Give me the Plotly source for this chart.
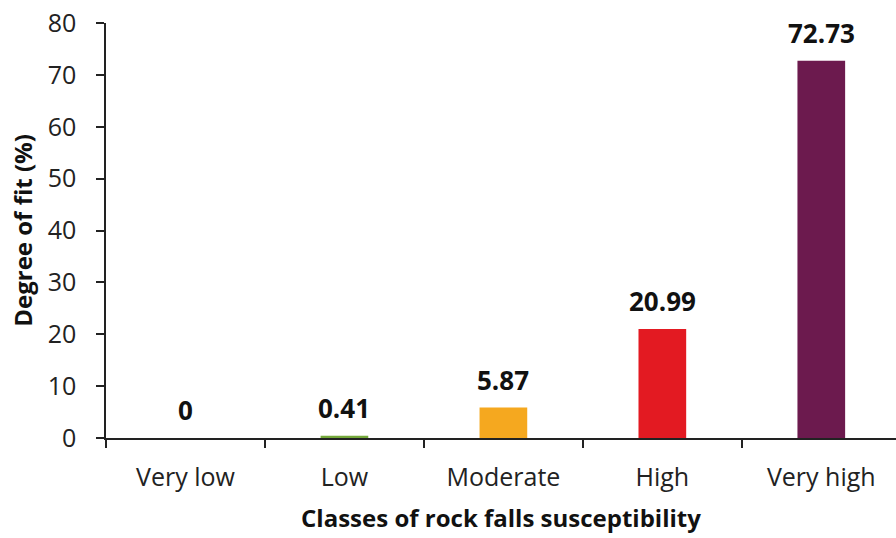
import plotly.graph_objects as go

categories = ["Very low", "Low", "Moderate", "High", "Very high"]
values = [0, 0.41, 5.87, 20.99, 72.73]
labels = ["0", "0.41", "5.87", "20.99", "72.73"]
colors = ["#74A83A", "#74A83A", "#F5A81F", "#E31A22", "#6C1A4E"]

FONT = "Open Sans"

fig = go.Figure()
fig.add_trace(go.Bar(
    x=categories, y=values, width=0.3,
    marker=dict(color=colors, line=dict(width=0)),
    hoverinfo="skip",
))

for c, v, t in zip(categories, values, labels):
    fig.add_annotation(
        x=c, y=v, text=f"<b>{t}</b>", showarrow=False,
        yanchor="bottom", yshift=8,
        font=dict(family=FONT, size=26, color="#111"),
    )

fig.update_layout(
    width=896, height=538,
    margin=dict(l=106, r=0, t=23, b=100),
    plot_bgcolor="white", paper_bgcolor="white",
    showlegend=False,
    font=dict(family=FONT, color="#222"),
)
fig.update_xaxes(
    range=[-0.5, 4.47],
    showline=True, linecolor="#222", linewidth=1.5,
    ticks="outside", ticklen=8, tickwidth=1.5, tickcolor="#222",
    tickson="boundaries",
    showgrid=False, zeroline=False,
    tickfont=dict(family=FONT, size=25, color="#222"),
    ticklabelstandoff=16,
    title=dict(text="<b>Classes of rock falls susceptibility</b>",
               font=dict(family=FONT, size=24, color="#111"), standoff=18),
)
fig.update_yaxes(
    range=[0, 80], dtick=10,
    showline=True, linecolor="#222", linewidth=1.5,
    ticks="outside", ticklen=8, tickwidth=1.5, tickcolor="#222",
    showgrid=False, zeroline=False,
    tickfont=dict(family=FONT, size=25, color="#222"),
    ticklabelstandoff=15,
    title=dict(text="<b>Degree of fit (%)</b>",
               font=dict(family=FONT, size=24, color="#111"), standoff=8),
)

fig.write_html("out.html", config={"displayModeBar": False},
               post_script="document.body.style.margin='0';")
